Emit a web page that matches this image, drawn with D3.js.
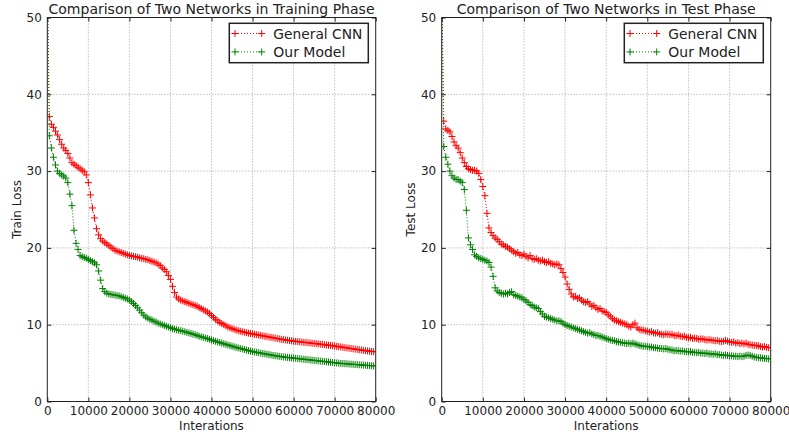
<!DOCTYPE html>
<html lang="en">
<head>
  <meta charset="UTF-8">
  <title>Comparison of Two Networks</title>
  <script src="https://d3js.org/d3.v7.min.js"></script>
  <style>
    body {
      margin: 0;
      background: #fff;
      font-family: "DejaVu Sans", sans-serif;
    }
    .tick text {
      font-size: 12px;
      fill: #222;
    }
    .grid line {
      stroke: #8a8a8a;
      stroke-width: 0.8;
      stroke-dasharray: 1,2;
    }
  </style>
</head>
<body>
  <svg id="chart" width="789" height="436"></svg>

  <script>
    // iterations sampled every 500 (0 .. 79500)
    const iterations = d3.range(0, 80000, 500);
    const seriesNames = ["General CNN", "Our Model"];
    const yTicks = [0, 10, 20, 30, 40, 50];
    const xTicks = [0, 10000, 20000, 30000, 40000, 50000, 60000, 70000, 80000];

    const trainCNN = [
      55, 37.1, 36.1, 35.7, 35.2, 34.7, 34.1, 33.5, 33.0, 32.7,
      32.3, 31.7, 31.1, 30.9, 30.7, 30.5, 30.3, 30.1, 29.9, 29.5,
      28.5, 26.9, 25.2, 23.9, 22.5, 21.7, 21.2, 20.9, 20.7, 20.5,
      20.3, 20.1, 19.9, 19.7, 19.6, 19.5, 19.4, 19.3, 19.2, 19.1,
      19.0, 18.95, 18.9, 18.85, 18.8, 18.7, 18.65, 18.6, 18.5, 18.45,
      18.35, 18.25, 18.15, 18.05, 17.9, 17.7, 17.4, 17.2, 16.9, 16.4,
      15.9, 15.0, 14.2, 13.6, 13.35, 13.2, 13.1, 13.0, 12.9, 12.8,
      12.7, 12.6, 12.5, 12.4, 12.25, 12.1, 11.95, 11.8, 11.65, 11.45,
      11.2, 10.95, 10.7, 10.5, 10.3, 10.15, 10.0, 9.85, 9.7, 9.6,
      9.5, 9.4, 9.3, 9.22, 9.15, 9.08, 9.02, 8.96, 8.9, 8.85,
      8.8, 8.75, 8.7, 8.65, 8.6, 8.55, 8.5, 8.45, 8.4, 8.35,
      8.3, 8.25, 8.2, 8.15, 8.1, 8.06, 8.02, 7.98, 7.94, 7.9,
      7.86, 7.83, 7.8, 7.77, 7.74, 7.71, 7.68, 7.65, 7.62, 7.59,
      7.56, 7.53, 7.5, 7.46, 7.43, 7.4, 7.36, 7.33, 7.3, 7.26,
      7.22, 7.18, 7.14, 7.1, 7.06, 7.02, 6.98, 6.94, 6.9, 6.86,
      6.82, 6.78, 6.74, 6.7, 6.66, 6.62, 6.58, 6.55, 6.52, 6.48
    ];

    const trainOurs = [
      55, 34.6, 33.0, 31.8, 30.8, 30.0, 29.7, 29.5, 29.35, 29.1,
      28.5, 27.0, 25.5, 22.3, 20.6, 19.8, 19.0, 18.85, 18.75, 18.65,
      18.5, 18.35, 18.2, 18.05, 17.8, 17.0, 15.8, 14.7, 14.3, 14.1,
      14.0, 13.95, 13.9, 13.85, 13.8, 13.75, 13.65, 13.55, 13.45, 13.35,
      13.2, 13.0, 12.75, 12.5, 12.2, 11.9, 11.55, 11.25, 11.0, 10.85,
      10.7, 10.6, 10.45, 10.35, 10.2, 10.1, 10.0, 9.9, 9.8, 9.7,
      9.6, 9.5, 9.42, 9.35, 9.28, 9.22, 9.15, 9.08, 9.0, 8.93,
      8.85, 8.77, 8.7, 8.6, 8.5, 8.42, 8.35, 8.27, 8.2, 8.1,
      8.0, 7.92, 7.84, 7.76, 7.68, 7.6, 7.52, 7.44, 7.36, 7.28,
      7.2, 7.12, 7.05, 6.98, 6.91, 6.84, 6.77, 6.7, 6.63, 6.56,
      6.5, 6.45, 6.4, 6.35, 6.3, 6.25, 6.2, 6.15, 6.1, 6.05,
      6.0, 5.96, 5.92, 5.88, 5.84, 5.8, 5.77, 5.74, 5.71, 5.68,
      5.65, 5.62, 5.59, 5.56, 5.53, 5.5, 5.47, 5.44, 5.41, 5.38,
      5.35, 5.32, 5.29, 5.26, 5.23, 5.2, 5.17, 5.14, 5.11, 5.08,
      5.05, 5.02, 4.99, 4.96, 4.94, 4.92, 4.9, 4.88, 4.86, 4.84,
      4.82, 4.8, 4.78, 4.76, 4.74, 4.72, 4.7, 4.68, 4.66, 4.63
    ];

    const testCNN = [
      55, 36.5, 35.5, 35.3, 35.1, 34.5, 33.8, 33.3, 33.0, 32.4,
      31.7, 31.1, 30.6, 30.3, 30.2, 30.1, 30.1, 30.0, 29.7, 28.9,
      28.0, 26.8, 24.5, 22.6, 22.0, 21.6, 21.3, 21.1, 20.8, 20.5,
      20.4, 20.2, 20.1, 19.9, 19.7, 19.5, 19.3, 19.4, 19.1, 19.0,
      19.2, 18.9, 18.7, 19.0, 18.6, 18.5, 18.6, 18.4, 18.3, 18.4,
      18.2, 18.1, 18.2, 18.0, 17.9, 17.8, 17.9, 17.8, 17.3, 16.8,
      16.2, 15.3, 14.6, 14.0, 13.6, 13.7, 13.4, 13.5, 13.2, 13.0,
      12.9, 13.0, 12.7, 12.4, 12.5, 12.2, 12.0, 12.1, 11.8, 11.7,
      11.6, 11.3, 11.1, 10.8, 10.6, 10.5, 10.4, 10.3, 10.2, 10.1,
      10.0, 9.8, 9.7, 10.0, 10.2, 9.6, 9.4, 9.3, 9.3, 9.2,
      9.15, 9.05, 9.1, 8.95, 8.9, 8.95, 8.8, 8.75, 8.7, 8.8,
      8.75, 8.7, 8.75, 8.6, 8.55, 8.65, 8.5, 8.45, 8.5, 8.35,
      8.3, 8.35, 8.2, 8.25, 8.2, 8.1, 8.15, 8.15, 8.05, 8.0,
      8.05, 8.0, 7.95, 7.9, 7.95, 7.85, 7.8, 7.85, 7.95, 7.85,
      7.75, 7.7, 7.75, 7.6, 7.65, 7.55, 7.6, 7.5, 7.6, 7.45,
      7.4, 7.35, 7.3, 7.3, 7.25, 7.15, 7.1, 7.15, 7.05, 7.0
    ];

    const testOurs = [
      55, 33.2, 31.8, 30.9, 30.0, 29.4, 29.1, 28.9, 28.9, 28.7,
      28.5, 27.6, 24.9, 21.3, 20.4, 19.8, 19.1, 18.9, 18.7, 18.6,
      18.5, 18.4, 18.3, 18.1, 17.5, 16.3, 14.8, 14.4, 14.2, 14.1,
      14.0, 14.1, 14.0, 14.2, 14.3, 13.9, 13.8, 13.7, 13.6, 13.5,
      13.3, 13.1, 12.9, 12.6, 12.5, 12.3, 12.2, 12.1, 11.7, 11.4,
      11.1, 11.0, 10.9, 10.8, 10.7, 10.6, 10.5, 10.5, 10.4, 10.2,
      10.0, 9.9, 9.8, 9.7, 9.6, 9.5, 9.4, 9.3, 9.2, 9.1,
      9.0, 8.9, 8.95, 8.8, 8.7, 8.6, 8.6, 8.5, 8.4, 8.3,
      8.2, 8.1, 8.0, 7.95, 7.9, 7.8, 7.75, 7.7, 7.65, 7.6,
      7.55, 7.6, 7.5, 7.6, 7.5, 7.4, 7.3, 7.25, 7.2, 7.2,
      7.15, 7.1, 7.1, 7.0, 7.0, 6.95, 6.9, 6.9, 6.85, 6.9,
      6.8, 6.75, 6.7, 6.6, 6.65, 6.6, 6.55, 6.6, 6.5, 6.5,
      6.45, 6.5, 6.4, 6.4, 6.35, 6.4, 6.3, 6.3, 6.25, 6.3,
      6.2, 6.2, 6.15, 6.2, 6.1, 6.1, 6.05, 6.0, 6.05, 6.0,
      5.95, 5.95, 5.9, 5.9, 5.85, 5.9, 5.85, 5.9, 6.0, 6.05,
      6.0, 5.9, 5.8, 5.75, 5.7, 5.7, 5.65, 5.6, 5.6, 5.55
    ];

    const colors = ["#ff0000", "#008000"];

    const svg = d3.select("#chart");
    const plotTop = 17.5, plotBottom = 401.5;

    const panels = [
      { left: 47.3, right: 375.7, title: "Comparison of Two Networks in Training Phase",
        titleLen: 326, ylabel: "Train Loss", ylabelX: 17, series: [trainCNN, trainOurs] },
      { left: 441.7, right: 770.7, title: "Comparison of Two Networks in Test Phase",
        titleLen: 299, ylabel: "Test Loss", ylabelX: 411, series: [testCNN, testOurs] }
    ];

    // small "+" marker path
    const plus = (s) => `M${-s},0H${s}M0,${-s}V${s}`;

    panels.forEach((p, pi) => {
      const x = d3.scaleLinear().domain([0, 80000]).range([p.left, p.right]);
      const y = d3.scaleLinear().domain([0, 50]).range([plotBottom, plotTop]);
      const g = svg.append("g");

      // grid
      const grid = g.append("g").attr("class", "grid");
      grid.selectAll(".gx").data(xTicks.slice(1, -1)).join("line")
        .attr("x1", d => x(d)).attr("x2", d => x(d))
        .attr("y1", plotTop).attr("y2", plotBottom);
      grid.selectAll(".gy").data(yTicks.slice(1, -1)).join("line")
        .attr("x1", p.left).attr("x2", p.right)
        .attr("y1", d => y(d)).attr("y2", d => y(d));

      // data
      const clipId = "clip" + pi;
      g.append("clipPath").attr("id", clipId).append("rect")
        .attr("x", p.left).attr("y", plotTop)
        .attr("width", p.right - p.left).attr("height", plotBottom - plotTop);

      const plot = g.append("g").attr("clip-path", `url(#${clipId})`);
      const line = d3.line().x((d, i) => x(iterations[i])).y(d => y(d));

      p.series.forEach((vals, si) => {
        plot.append("path")
          .attr("d", line(vals))
          .attr("fill", "none")
          .attr("stroke", colors[si])
          .attr("stroke-width", 1)
          .attr("stroke-dasharray", "1,2");
        plot.append("g").selectAll("path").data(vals).join("path")
          .attr("transform", (d, i) => `translate(${x(iterations[i])},${y(d)})`)
          .attr("d", plus(3.5))
          .attr("fill", "none")
          .attr("stroke", colors[si])
          .attr("stroke-width", 1);
      });

      // axes (ticks inward on all four sides)
      const ax = g.append("g").attr("transform", `translate(0,${plotBottom})`)
        .call(d3.axisBottom(x).tickValues(xTicks).tickFormat(d3.format("d")).tickSize(-4).tickPadding(5));
      const ay = g.append("g").attr("transform", `translate(${p.left},0)`)
        .call(d3.axisLeft(y).tickValues(yTicks).tickSize(-4).tickPadding(5.5));
      const at = g.append("g").attr("transform", `translate(0,${plotTop})`)
        .call(d3.axisTop(x).tickValues(xTicks).tickFormat("").tickSize(-4));
      const ar = g.append("g").attr("transform", `translate(${p.right},0)`)
        .call(d3.axisRight(y).tickValues(yTicks).tickFormat("").tickSize(-4));
      [ax, ay, at, ar].forEach(a => {
        a.select(".domain").remove();
        a.selectAll(".tick line").attr("stroke", "#222");
        a.selectAll("text").attr("font-family", "DejaVu Sans");
      });

      // frame
      g.append("rect")
        .attr("x", p.left).attr("y", plotTop)
        .attr("width", p.right - p.left).attr("height", plotBottom - plotTop)
        .attr("fill", "none").attr("stroke", "#222").attr("stroke-width", 1);

      // title and labels
      g.append("text")
        .attr("x", (p.left + p.right) / 2).attr("y", 14)
        .attr("text-anchor", "middle")
        .attr("font-size", 14)
        .attr("fill", "#222")
        .attr("textLength", p.titleLen)
        .attr("lengthAdjust", "spacingAndGlyphs")
        .text(p.title);

      g.append("text")
        .attr("x", (p.left + p.right) / 2).attr("y", 430)
        .attr("text-anchor", "middle")
        .attr("font-size", 12)
        .attr("fill", "#222")
        .text("Interations");

      g.append("text")
        .attr("transform", `translate(${p.ylabelX},${(plotTop + plotBottom) / 2}) rotate(-90)`)
        .attr("text-anchor", "middle")
        .attr("dominant-baseline", "central")
        .attr("font-size", 12)
        .attr("fill", "#222")
        .text(p.ylabel);

      // legend
      const lg = g.append("g").attr("transform", `translate(${p.right},${plotTop})`);
      lg.append("rect")
        .attr("x", -146.4).attr("y", 5.8)
        .attr("width", 139).attr("height", 39.4)
        .attr("fill", "#fff").attr("stroke", "#222").attr("stroke-width", 1.5);

      seriesNames.forEach((name, si) => {
        const ry = 16 + si * 18.4;
        const row = lg.append("g").attr("transform", `translate(0,${ry})`);
        row.append("line")
          .attr("x1", -140.7).attr("x2", -114)
          .attr("stroke", colors[si]).attr("stroke-width", 1)
          .attr("stroke-dasharray", "1,2");
        [-140.7, -114].forEach(mx => {
          row.append("path")
            .attr("transform", `translate(${mx},0)`)
            .attr("d", plus(3.5))
            .attr("fill", "none")
            .attr("stroke", colors[si]);
        });
        row.append("text")
          .attr("x", -102.4)
          .attr("dominant-baseline", "central")
          .attr("font-size", 14)
          .attr("fill", "#222")
          .attr("textLength", si === 0 ? 89 : 72)
          .attr("lengthAdjust", "spacingAndGlyphs")
          .text(name);
      });
    });
  </script>
</body>
</html>
